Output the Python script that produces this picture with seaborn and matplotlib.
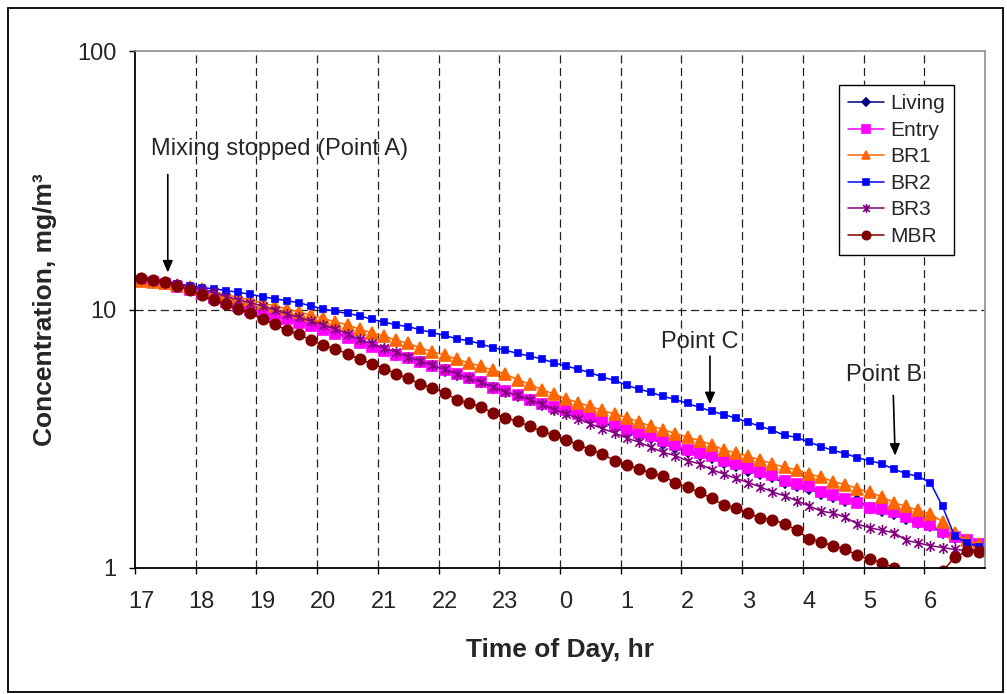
import numpy as np
import pandas as pd
import matplotlib
matplotlib.use("Agg")
import matplotlib.pyplot as plt
import matplotlib.transforms as mtransforms
from matplotlib.path import Path
from matplotlib.patches import Rectangle
from matplotlib.ticker import FixedLocator, NullLocator
import seaborn as sns

# -----------------------------
# Data, one sample every 12 minutes from ~17:06
# -----------------------------
hours = np.round(17.1 + 0.2 * np.arange(70), 2)

living = [13.0, 12.85, 12.65, 12.4, 12.1, 11.8, 11.45, 11.1, 10.75, 10.4,
          10.05, 9.7, 9.35, 9.05, 8.75, 8.45, 8.15, 7.85, 7.5, 7.22,
          6.95, 6.68, 6.5, 6.27, 6.03, 5.8, 5.6, 5.42, 5.22, 4.98,
          4.82, 4.63, 4.45, 4.27, 4.14, 4.03, 3.9, 3.78, 3.66, 3.5,
          3.37, 3.27, 3.18, 3.03, 2.92, 2.82, 2.74, 2.66, 2.55, 2.48,
          2.38, 2.32, 2.24, 2.13, 2.07, 2.02, 1.93, 1.88, 1.82, 1.84,
          1.70, 1.66, 1.62, 1.55, 1.49, 1.45, 1.37, 1.31, 1.26, 1.22]

entry = [12.9, 12.75, 12.55, 12.25, 11.9, 11.5, 11.1, 10.7, 10.35, 10.0,
         9.7, 9.4, 9.15, 8.85, 8.6, 8.3, 8.05, 7.76, 7.43, 7.17,
         6.92, 6.66, 6.52, 6.27, 6.05, 5.82, 5.62, 5.45, 5.24, 4.99,
         4.84, 4.66, 4.48, 4.30, 4.18, 4.07, 3.95, 3.83, 3.72, 3.56,
         3.43, 3.33, 3.24, 3.09, 2.98, 2.87, 2.79, 2.72, 2.60, 2.53,
         2.43, 2.36, 2.28, 2.17, 2.11, 2.07, 1.97, 1.92, 1.85, 1.78,
         1.71, 1.69, 1.65, 1.57, 1.50, 1.47, 1.38, 1.32, 1.28, 1.24]

br1 = [12.9, 12.8, 12.65, 12.48, 12.2, 11.97, 11.72, 11.44, 11.13, 10.88,
       10.59, 10.33, 10.05, 9.78, 9.51, 9.23, 8.95, 8.74, 8.38, 8.13,
       7.89, 7.61, 7.39, 7.11, 6.86, 6.66, 6.42, 6.21, 6.03, 5.82,
       5.62, 5.36, 5.14, 4.90, 4.71, 4.52, 4.36, 4.22, 4.07, 3.94,
       3.82, 3.67, 3.54, 3.43, 3.31, 3.21, 3.11, 3.00, 2.86, 2.79,
       2.70, 2.62, 2.53, 2.45, 2.40, 2.31, 2.25, 2.16, 2.10, 2.03,
       1.96, 1.89, 1.79, 1.73, 1.67, 1.62, 1.51, 1.36, 1.28, 1.24]

br2 = [13.1, 13.0, 12.82, 12.56, 12.34, 12.16, 12.01, 11.84, 11.66, 11.44,
       11.21, 11.0, 10.82, 10.62, 10.32, 10.06, 9.84, 9.65, 9.46, 9.16,
       8.94, 8.73, 8.58, 8.35, 8.13, 7.94, 7.70, 7.57, 7.35, 7.11,
       6.96, 6.76, 6.60, 6.44, 6.22, 6.05, 5.87, 5.70, 5.47, 5.32,
       5.09, 4.92, 4.78, 4.61, 4.49, 4.33, 4.18, 4.04, 3.92, 3.80,
       3.66, 3.53, 3.41, 3.26, 3.20, 3.07, 2.95, 2.85, 2.77, 2.67,
       2.60, 2.53, 2.41, 2.32, 2.26, 2.14, 1.73, 1.33, 1.25, 1.21]

br3 = [13.1, 12.9, 12.7, 12.5, 12.25, 11.95, 11.66, 11.21, 10.93, 10.62,
       10.33, 9.98, 9.62, 9.33, 9.01, 8.71, 8.4, 8.05, 7.66, 7.39,
       7.07, 6.86, 6.56, 6.31, 6.09, 5.86, 5.65, 5.41, 5.24, 5.01,
       4.79, 4.66, 4.48, 4.30, 4.10, 3.95, 3.78, 3.61, 3.46, 3.33,
       3.18, 3.07, 2.93, 2.80, 2.72, 2.60, 2.53, 2.40, 2.31, 2.22,
       2.14, 2.06, 1.97, 1.90, 1.82, 1.74, 1.66, 1.63, 1.57, 1.48,
       1.43, 1.40, 1.37, 1.28, 1.25, 1.22, 1.20, 1.18, 1.17, 1.17]

mbr = [13.22, 13.0, 12.75, 12.34, 11.9, 11.38, 10.88, 10.47, 10.05, 9.67,
       9.16, 8.76, 8.32, 8.01, 7.61, 7.28, 7.02, 6.75, 6.41, 6.18,
       5.91, 5.65, 5.41, 5.14, 4.99, 4.75, 4.48, 4.35, 4.19, 3.98,
       3.81, 3.70, 3.53, 3.38, 3.27, 3.13, 3.00, 2.87, 2.76, 2.60,
       2.51, 2.42, 2.33, 2.26, 2.14, 2.05, 1.96, 1.86, 1.75, 1.71,
       1.63, 1.56, 1.54, 1.48, 1.40, 1.30, 1.26, 1.22, 1.18, 1.12,
       1.08, 1.05, 1.00, 0.93, 0.90, 0.90, 0.97, 1.10, 1.16, 1.15]

hour_ticks = list(range(17, 31))
hour_labels = ["17", "18", "19", "20", "21", "22", "23",
               "0", "1", "2", "3", "4", "5", "6"]

# -----------------------------
# Style
# -----------------------------
sns.set_style("white")
plt.rcParams["font.family"] = ["Liberation Sans", "DejaVu Sans"]

# asterisk marker: vertical bar plus an x
star = Path([(0, -1), (0, 1), (-0.75, -0.75), (0.75, 0.75), (-0.75, 0.75), (0.75, -0.75)],
            [Path.MOVETO, Path.LINETO] * 3)

series = [
    ("Living", living, "#000080", "D", 5.0),
    ("Entry", entry, "#FF00FF", "s", 7.5),
    ("BR1", br1, "#FF6600", "^", 8.0),
    ("BR2", br2, "#0000FF", "s", 5.0),
    ("BR3", br3, "#800080", star, 8.0),
    ("MBR", mbr, "#800000", "o", 7.5),
]

fig = plt.figure(figsize=(10.07, 6.94), dpi=100)
ax = fig.add_axes([135 / 1007, 126 / 694, 850 / 1007, 517 / 694])

for name, vals, col, mk, ms in series:
    df = pd.DataFrame({"hour": hours, "conc": vals})
    sns.lineplot(data=df, x="hour", y="conc", ax=ax, color=col, marker=mk,
                 markersize=ms, markeredgecolor=col, markerfacecolor=col,
                 markeredgewidth=1.2, linewidth=1.1, label=name)

ax.set_yscale("log")
ax.set_ylim(1, 100)
ax.set_xlim(17, 31)

ax.yaxis.set_major_locator(FixedLocator([1, 10, 100]))
ax.yaxis.set_minor_locator(NullLocator())
ax.set_yticklabels(["1", "10", "100"])
ax.set_xticks(hour_ticks)
ax.set_xticklabels(hour_labels)

ax.tick_params(axis="both", labelsize=17, direction="out", length=4.5,
               width=1, color="black", left=True, bottom=True)
ax.tick_params(axis="x", pad=12)
ax.tick_params(axis="y", pad=9)

offset = mtransforms.ScaledTranslation(6 / 100, 0, fig.dpi_scale_trans)
for lab in ax.get_xticklabels():
    lab.set_transform(lab.get_transform() + offset)

# dashed grid
for h in hour_ticks[1:]:
    ax.axvline(h, color="#222222", lw=0.9, ls=(0, (6.5, 3.6)), zorder=0)
ax.axhline(10, color="#222222", lw=0.9, ls=(0, (6.5, 3.6)), zorder=0)

for side in ["left", "bottom"]:
    ax.spines[side].set_color("black")
    ax.spines[side].set_linewidth(1.3)
for side in ["top", "right"]:
    ax.spines[side].set_color("#909090")
    ax.spines[side].set_linewidth(1.2)

ax.set_xlabel("Time of Day, hr", fontsize=19, fontweight="bold")
ax.set_ylabel("Concentration, mg/m\u00b3", fontsize=19, fontweight="bold")
ax.xaxis.set_label_coords(0.5, -0.135)
ax.yaxis.set_label_coords(-0.092, 0.5)

# annotations
arrow = dict(arrowstyle="-|>,head_length=0.7,head_width=0.3", color="black",
             lw=1.2, shrinkA=0, shrinkB=0)
ax.annotate("", xy=(17.54, 13.9), xytext=(17.54, 33.3), arrowprops=arrow)
ax.annotate("", xy=(26.47, 4.30), xytext=(26.47, 6.6), arrowprops=arrow)
ax.annotate("", xy=(29.52, 2.72), xytext=(29.49, 4.65), arrowprops=arrow)
ax.text(17.27, 39.5, "Mixing stopped (Point A)", fontsize=17, va="baseline", ha="left")
ax.text(26.31, 7.12, "Point C", fontsize=17, va="baseline", ha="center")
ax.text(29.34, 5.29, "Point B", fontsize=17, va="baseline", ha="center")

leg = ax.legend(loc="upper right", bbox_to_anchor=(0.9635, 0.934), fontsize=15,
                frameon=True, fancybox=False, edgecolor="black", framealpha=1,
                handlelength=1.7, handletextpad=0.3, labelspacing=0.36,
                borderpad=0.45, borderaxespad=0, numpoints=1)
leg.get_frame().set_linewidth(1.0)
for h in leg.legend_handles:
    h.set_markersize(h.get_markersize() * 0.8)

# chart area border
fig.add_artist(Rectangle((8 / 1007, 2 / 694), 995 / 1007, 684 / 694,
                         transform=fig.transFigure, fill=False,
                         edgecolor="black", lw=1.3))

fig.savefig("out.png", dpi=100)
